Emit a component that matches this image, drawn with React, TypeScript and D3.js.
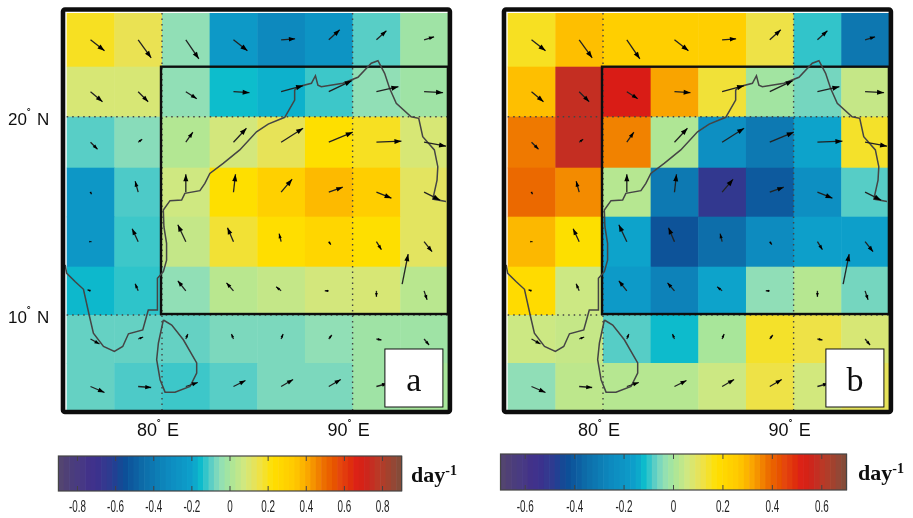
import React from "react";
import * as d3 from "d3";

const lonEdges = [75, 77.5, 80, 82.5, 85, 87.5, 90, 92.5, 95];
const latEdges = [25, 22.5, 20, 17.5, 15, 12.5, 10, 7.5, 5];

// growth rate in each cell, top row first (day-1)
const panelARates = [
  [0.19, 0.14, -0.05, -0.24, -0.33, -0.27, -0.1, -0.02],
  [0.09, 0.09, -0.05, -0.15, -0.17, -0.12, -0.05, -0.02],
  [-0.1, -0.06, 0.02, 0.08, 0.13, 0.22, 0.19, 0.09],
  [-0.25, -0.11, 0.07, 0.22, 0.3, 0.37, 0.31, 0.12],
  [-0.25, -0.12, 0.05, 0.17, 0.23, 0.27, 0.22, 0.12],
  [-0.16, -0.13, -0.05, 0.03, 0.05, 0.08, 0.09, 0.03],
  [-0.09, -0.09, -0.09, -0.07, -0.07, -0.05, -0.02, -0.02],
  [-0.09, -0.11, -0.12, -0.1, -0.07, -0.07, -0.02, 0],
];
const panelBRates = [
  [0.15, 0.28, 0.24, 0.24, 0.24, 0.12, -0.1, -0.32],
  [0.28, 0.58, 0.53, 0.32, 0.13, -0.01, -0.06, 0.04],
  [0.37, 0.58, 0.36, 0.01, -0.23, -0.31, -0.15, 0.14],
  [0.39, 0.35, 0.02, -0.31, -0.5, -0.4, -0.23, -0.08],
  [0.29, 0.17, -0.15, -0.42, -0.35, -0.25, -0.16, -0.16],
  [0.19, 0.05, -0.18, -0.28, -0.15, -0.04, 0.02, -0.06],
  [0.05, 0.04, -0.08, -0.12, 0, 0.14, 0.12, 0.07],
  [-0.04, 0.03, 0.02, 0.02, 0.05, 0.12, 0.06, 0.1],
];

// wind components at the cell centres, same for both panels
const windU = [
  [14, 13, 13, 14, 14, 11, 10, 10],
  [12, 10, 11, 16, 22, 23, 22, 19],
  [7, 4, 7, 13, 22, 24, 25, 22],
  [1, -3, 0, 2, 11, 14, 15, 16],
  [1, -6, -8, -6, -2, 2, 5, 8],
  [-3, -3, -8, -7, -5, -4, 0, 3],
  [9, 5, 2, -2, 2, 3, 5, 5],
  [14, 13, 12, 12, 12, 12, 11, 8],
];
const windV = [
  [-11, -18, -19, -11, 1, 10, 9, 3],
  [-10, -10, -7, -1, 6, 11, 5, -1],
  [-7, 3, 10, 14, 14, 10, 1, -4],
  [-2, 11, 18, 18, 13, 5, -6, -8],
  [0, 13, 17, 14, 8, -3, -8, -10],
  [1, 7, 10, 8, 4, 0, -6, -9],
  [-5, 2, 5, 5, 5, 4, -1, -6],
  [-6, -1, 4, 6, 7, 7, 3, 0],
];
const strayArrow = { lon: 92.6, lat: 11.6, u: 6, v: 30 };

const mainCoast: [number, number][] = [
  [94.9, 15.78], [94.21, 15.9], [94.43, 16.87], [94.47, 17.55], [94.29, 18.37], [93.68, 19.02],
  [93.47, 19.92], [93.07, 20], [92.29, 20.67], [91.94, 21.42], [91.68, 22.17], [91.33, 22.78],
  [90.98, 22.66], [90.28, 21.97], [89.49, 21.67], [88.36, 21.5], [88.18, 21.58], [88.05, 22.05],
  [87.84, 21.67], [87.14, 21.5], [86.96, 21.33], [86.96, 20.83], [86.44, 19.97], [85.57, 19.64],
  [84.96, 19.26], [84.08, 18.37], [83.21, 17.71], [82.51, 17.21], [82.25, 16.7], [81.99, 16.33],
  [81.2, 16.19], [81.03, 15.85], [80.42, 15.82], [80.07, 15.34], [80.1, 14.5], [80.24, 13.67],
  [80.24, 12.83], [80.07, 12.24], [79.76, 11.9], [79.76, 10.26], [79.28, 10.26], [78.99, 9.22],
  [78.24, 9.02], [77.94, 8.36], [77.5, 8.1], [76.93, 8.36], [76.4, 9.05], [76.2, 9.91],
  [75.88, 11.33], [75.45, 11.72], [75, 12.16], [74.92, 12.59],
];
const sriLanka: [number, number][] = [
  [80.07, 9.74], [79.81, 8.53], [79.72, 7.67], [79.9, 6.61], [80.16, 5.95], [80.68, 5.95],
  [81.47, 6.25], [81.82, 6.96], [81.82, 7.5], [81.12, 8.71], [80.51, 9.48], [80.07, 9.74],
];

const rampStops = [-1, -0.9, -0.8, -0.7, -0.6, -0.5, -0.35, -0.22, -0.17, -0.12, -0.06, 0, 0.08, 0.16, 0.25, 0.38, 0.46, 0.55, 0.66, 0.75, 0.88, 1];
const rampColors = ["#55466e", "#4a3c80", "#40308c", "#2e3a90", "#0a5299", "#0a6eaa", "#0a8cc0", "#0aa0cb", "#0abccc", "#50cbc8", "#8fdeb8", "#a8e69a", "#d0e880", "#ece250", "#ffdf00", "#ffc800", "#f9a300", "#ec6c00", "#e33e0c", "#db1c16", "#b53c28", "#7f4d3b"];
const ramp = d3.scaleLinear<string>().domain(rampStops).range(rampColors).clamp(true);

const ticksA = [-0.8, -0.6, -0.4, -0.2, 0, 0.2, 0.4, 0.6, 0.8];
const ticksB = [-0.6, -0.4, -0.2, 0, 0.2, 0.4, 0.6];
const steps = d3.range(64);

const cellW = 47.65;
const rowTops = [13, 66.7, 116.7, 167.7, 216.7, 266.7, 315, 363, 410];

function tickText(t: number) {
  return t === 0 ? "0" : String(t);
}

function Panel({ left, rates, maxRate, letter, latLabels }: any) {
  const x = d3.scaleLinear().domain([75, 95]).range([left, left + cellW * 8]);
  // rows are not quite equal in height in the picture
  const y = d3.scaleLinear().domain(latEdges).range(rowTops);
  const line = d3.line<[number, number]>().x((d) => x(d[0])).y((d) => y(d[1]));
  const arrows: any[] = [];
  latEdges.slice(0, 8).forEach((lat, r) => {
    lonEdges.slice(0, 8).forEach((lon, c) => {
      if (r === 7 && c === 7) return;
      arrows.push({ x0: x(lon + 1.25), y0: y(lat - 1.25), u: windU[r][c], v: windV[r][c] });
    });
  });
  arrows.push({ x0: x(strayArrow.lon), y0: y(strayArrow.lat), u: strayArrow.u, v: strayArrow.v });
  const frameL = left - 3.7;
  const frameR = x(95) + 2;
  return (
    <g>
      {rates.map((row: number[], r: number) =>
        row.map((val, c) => (
          <rect
            key={r + "-" + c}
            x={x(lonEdges[c])}
            y={y(latEdges[r])}
            width={x(lonEdges[c + 1]) - x(lonEdges[c]) + 0.5}
            height={y(latEdges[r + 1]) - y(latEdges[r]) + 0.5}
            fill={ramp(val / maxRate)}
          />
        ))
      )}
      {[80, 90].map((lon) => (
        <line key={lon} x1={x(lon)} x2={x(lon)} y1={13} y2={410} stroke="#444" strokeWidth={1.4} strokeDasharray="1.5 4" />
      ))}
      {[20, 10].map((lat) => (
        <line key={lat} x1={x(75)} x2={x(95)} y1={y(lat)} y2={y(lat)} stroke="#444" strokeWidth={1.4} strokeDasharray="1.5 4" />
      ))}
      <rect x={x(80) - 1} y={y(22.5)} width={x(95) - x(80) + 1} height={y(10) - y(22.5) - 1} fill="none" stroke="#111" strokeWidth={2.4} />
      <path d={line(mainCoast) || ""} fill="none" stroke="#444" strokeWidth={1.5} />
      <path d={line(sriLanka) || ""} fill="none" stroke="#444" strokeWidth={1.5} />
      {arrows.map((a, i) => {
        const len = Math.hypot(a.u, a.v);
        const angle = (Math.atan2(-a.v, a.u) * 180) / Math.PI;
        const head = Math.min(7, 2 + len * 0.3);
        return (
          <g key={i} transform={`translate(${a.x0},${a.y0}) rotate(${angle})`}>
            <line x1={0} y1={0} x2={len} y2={0} stroke="#222" strokeWidth={1.3} />
            <path d={`M${len},0L${len - head},${-head * 0.36}L${len - head},${head * 0.36}Z`} fill="#000" />
          </g>
        );
      })}
      <rect x={frameL} y={9.5} width={frameR - frameL} height={402.5} rx={2} fill="none" stroke="#111" strokeWidth={4.6} />
      <rect x={x(95) - 63} y={349} width={58} height={58} fill="#fff" stroke="#111" strokeWidth={1} />
      <text x={x(95) - 34} y={391} textAnchor="middle" fontFamily="'Liberation Serif', serif" fontSize={34} fill="#111">
        {letter}
      </text>
      {[80, 90].map((lon) => (
        <text key={lon} x={x(lon) - 25} y={436} fontFamily="'Liberation Sans', sans-serif" fontSize={18} fill="#111">
          {lon}
          <tspan dy={-7} fontSize={12} fontWeight="bold">˚</tspan>
          <tspan dy={7} dx={6}>E</tspan>
        </text>
      ))}
      {latLabels &&
        [20, 10].map((lat) => (
          <text key={lat} x={8} y={y(lat) + 8} fontFamily="'Liberation Sans', sans-serif" fontSize={17} fill="#111">
            {lat}
            <tspan dy={-7} fontSize={12} fontWeight="bold">˚</tspan>
            <tspan dy={7} dx={6}>N</tspan>
          </text>
        ))}
    </g>
  );
}

function ColorBar({ x0, x1, top, bottom, maxRate, ticks, unitX, unitY }: any) {
  const x = d3.scaleLinear().domain([-maxRate, maxRate]).range([x0, x1]);
  const band = d3.scaleBand<number>().domain(steps).range([x0, x1]);
  return (
    <g>
      {steps.map((s) => (
        <rect
          key={s}
          x={band(s)}
          y={top}
          width={band.bandwidth() + 0.6}
          height={bottom - top}
          fill={ramp(((s + 0.5) / steps.length) * 2 - 1)}
        />
      ))}
      <rect x={x0} y={top} width={x1 - x0} height={bottom - top} fill="none" stroke="#444" strokeWidth={1.2} />
      {ticks.map((t: number) => (
        <g key={t}>
          <line x1={x(t)} x2={x(t)} y1={top} y2={top + 5} stroke="#444" />
          <line x1={x(t)} x2={x(t)} y1={bottom - 5} y2={bottom} stroke="#444" />
          {/* labels are squeezed sideways in the picture */}
          <text
            transform={`translate(${x(t)},512) scale(0.58,1)`}
            textAnchor="middle"
            fontFamily="'Liberation Sans', sans-serif"
            fontSize={17}
            fill="#222"
          >
            {tickText(t)}
          </text>
        </g>
      ))}
      <text x={unitX} y={unitY} fontFamily="'Liberation Serif', serif" fontWeight="bold" fontSize={22} fill="#111">
        day<tspan dy={-7} fontSize={14}>-1</tspan>
      </text>
    </g>
  );
}

export default function App() {
  return (
    <svg width={913} height={518} style={{ position: "absolute", left: 0, top: 0, background: "#fff" }}>
      <defs>
        <filter id="soft" x="0" y="0" width="100%" height="100%">
          <feGaussianBlur stdDeviation="0.45" />
        </filter>
      </defs>
      <g filter="url(#soft)">
        <rect width={913} height={518} fill="#fff" />
        <Panel left={66.7} rates={panelARates} maxRate={0.9} letter="a" latLabels />
        <Panel left={507.7} rates={panelBRates} maxRate={0.7} letter="b" latLabels={false} />
        <ColorBar x0={58.4} x1={401.6} top={456} bottom={491} maxRate={0.9} ticks={ticksA} unitX={411} unitY={482} />
        <ColorBar x0={500.5} x1={846.5} top={454} bottom={490} maxRate={0.7} ticks={ticksB} unitX={858} unitY={480} />
      </g>
    </svg>
  );
}
